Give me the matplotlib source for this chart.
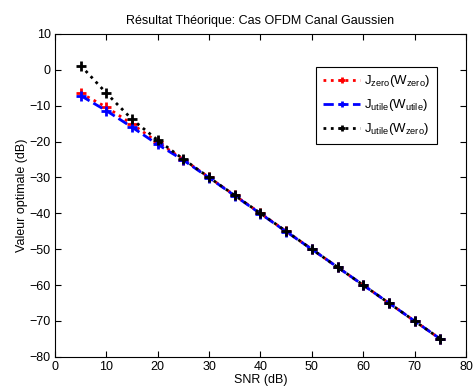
import numpy as np
import matplotlib
matplotlib.use("Agg")
import matplotlib.pyplot as plt

plt.rcParams['font.family'] = ['Liberation Sans', 'DejaVu Sans']
plt.rcParams['font.size'] = 9
plt.rcParams['mathtext.fontset'] = 'custom'
plt.rcParams['mathtext.rm'] = 'Liberation Sans'
plt.rcParams['mathtext.it'] = 'Liberation Sans'
plt.rcParams['mathtext.default'] = 'regular'

snr = [5, 10, 15, 20, 25, 30, 35, 40, 45, 50, 55, 60, 65, 70, 75]
j_zero = [-6.5, -10.4, -15.1, -20.2, -25, -30, -35, -40, -45, -50, -55, -60, -65, -70, -75]
j_utile = [-7.2, -11.4, -16.0, -20.8, -25.2, -30.1, -35.1, -40.1, -45.1, -50, -55, -60, -65, -70, -75]
j_utile_wzero = [1.2, -6.5, -13.8, -19.6, -24.9, -30, -35, -40, -45, -50, -55, -60, -65, -70, -75]

fig = plt.figure(figsize=(4.74, 3.9), dpi=100)
ax = fig.add_axes([0.116, 0.085, 0.867, 0.828])

ax.plot(snr, j_zero, color='red', linestyle=':', linewidth=2, marker='+',
        markersize=6.5, markeredgewidth=2, label=r'J$_{zero}$(W$_{zero}$)')
ax.plot(snr, j_utile, color='blue', linestyle='--', linewidth=2, marker='+',
        markersize=6.5, markeredgewidth=2, label=r'J$_{utile}$(W$_{utile}$)')
ax.plot(snr, j_utile_wzero, color='black', linestyle=':', linewidth=2, marker='+',
        markersize=6.5, markeredgewidth=2, label=r'J$_{utile}$(W$_{zero}$)')

ax.set_xlim(0, 80)
ax.set_ylim(-80, 10)
ax.set_xticks(np.arange(0, 81, 10))
ax.set_yticks(np.arange(-80, 11, 10))
ax.tick_params(direction='in', top=True, right=True, length=4, pad=3)
ax.set_xlabel("SNR (dB)", labelpad=1)
ax.set_ylabel("Valeur optimale (dB)", labelpad=1)
ax.set_title("Résultat Théorique: Cas OFDM Canal Gaussien", fontsize=9, pad=7)

leg = ax.legend(loc='upper right', bbox_to_anchor=(0.929, 0.898), fancybox=False,
                edgecolor='black', framealpha=1, handlelength=2.8, handletextpad=0.3,
                borderpad=0.5, labelspacing=0.6, markerscale=0.65, borderaxespad=0,
                prop={'size': 9.5})
leg.get_frame().set_linewidth(0.8)

fig.savefig("out.png", dpi=100)
